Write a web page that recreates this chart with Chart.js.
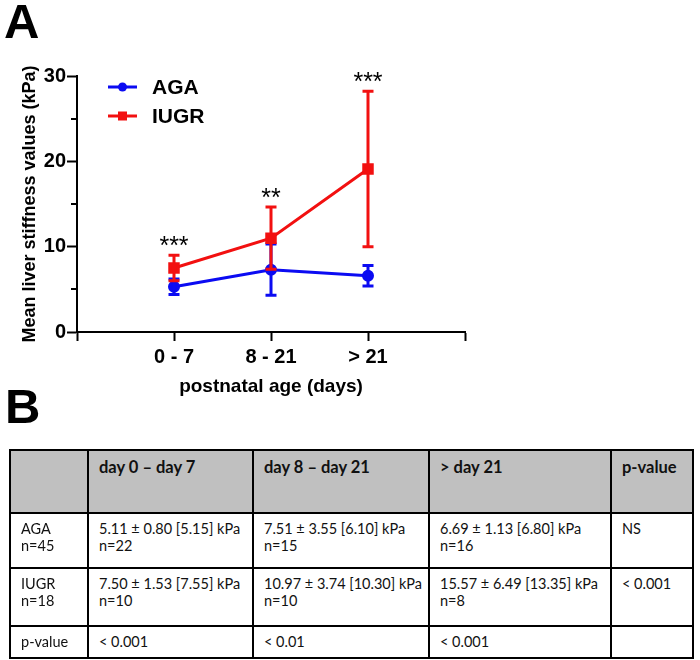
<!DOCTYPE html>
<html><head><meta charset="utf-8">
<script src="https://cdn.jsdelivr.net/npm/chart.js@4.4.1/dist/chart.umd.min.js"></script>
<style>
html,body{margin:0;padding:0;background:#fff;width:700px;height:660px;overflow:hidden;}
body{position:relative;font-family:'Liberation Sans',Arial,sans-serif;}
#cv{position:absolute;left:0;top:0;}
.panel{position:absolute;font-weight:bold;font-size:49px;line-height:1;color:#000;font-family:'Liberation Sans',Arial,sans-serif;}
#pa{left:4px;top:-3px;}
#pb{left:5px;top:382px;}
#tbl{position:absolute;left:9px;top:449px;width:683px;border-collapse:collapse;table-layout:fixed;font-family:Lato,'Open Sans',sans-serif;font-size:14.5px;color:#111;}
#tbl td{border:2px solid #000;text-align:left;vertical-align:top;padding:6px 0 0 10px;line-height:17px;white-space:pre;overflow:hidden;}
#tbl tr.hd td{background:#c0c0c0;font-weight:bold;font-size:16.5px;padding-top:8px;}
</style>
</head>
<body>
<canvas id="cv" width="700" height="420"></canvas>
<div class="panel" id="pa">A</div>
<div class="panel" id="pb">B</div>
<table id="tbl">
<colgroup><col style="width:78px"><col style="width:165px"><col style="width:176px"><col style="width:182px"><col style="width:82px"></colgroup>
<tbody id="tb"></tbody>
</table>
<script>
// ---- chart data ----
const xLabels = ['0 - 7', '8 - 21', '> 21'];
const xPositions = [1, 2, 3];
const agaMean = [5.3, 7.3, 6.6];
const agaSD = [0.9, 3.0, 1.2];
const iugrMean = [7.5, 11.0, 19.1];
const iugrSD = [1.5, 3.65, 9.1];
const significance = ['***', '**', '***'];
const yTickLabels = [0, 10, 20, 30];
const seriesNames = ['AGA', 'IUGR'];

// ---- table data ----
const tableHeader = ['', 'day 0 \u2013 day 7', 'day 8 \u2013 day 21', '> day 21', 'p-value'];
const tableAGA = ['AGA\nn=45', '5.11 \u00b1 0.80 [5.15] kPa\nn=22', '7.51 \u00b1 3.55 [6.10] kPa\nn=15', '6.69 \u00b1 1.13 [6.80] kPa\nn=16', 'NS'];
const tableIUGR = ['IUGR\nn=18', '7.50 \u00b1 1.53 [7.55] kPa\nn=10', '10.97 \u00b1 3.74 [10.30] kPa\nn=10', '15.57 \u00b1 6.49 [13.35] kPa\nn=8', '< 0.001'];
const tablePvalue = ['p-value', '< 0.001', '< 0.01', '< 0.001', ''];

const rowHeights = [63, 55, 58, 32];
const tb = document.getElementById('tb');
[tableHeader, tableAGA, tableIUGR, tablePvalue].forEach((row, r) => {
  const tr = document.createElement('tr');
  if (r === 0) tr.className = 'hd';
  tr.style.height = rowHeights[r] + 'px';
  row.forEach(txt => {
    const td = document.createElement('td');
    td.textContent = txt;
    tr.appendChild(td);
  });
  tb.appendChild(tr);
});

const BLUE = '#0b0bf2';
const RED = '#f21010';
const FONT = "'Liberation Sans', Arial, sans-serif";

const errorBars = {
  id: 'errorBars',
  afterDatasetDraw(chart, args) {
    const ds = chart.data.datasets[args.index];
    const ys = chart.scales.y;
    const c = chart.ctx;
    c.save();
    c.strokeStyle = ds.borderColor;
    c.lineWidth = 3;
    args.meta.data.forEach((pt, i) => {
      const v = ds.data[i].y, e = ds.errors[i];
      const top = ys.getPixelForValue(v + e), bot = ys.getPixelForValue(v - e);
      c.beginPath();
      c.moveTo(pt.x, top); c.lineTo(pt.x, bot);
      c.moveTo(pt.x - 5.5, top); c.lineTo(pt.x + 5.5, top);
      c.moveTo(pt.x - 5.5, bot); c.lineTo(pt.x + 5.5, bot);
      c.stroke();
    });
    c.restore();
  }
};

const extras = {
  id: 'extras',
  afterDraw(chart) {
    const c = chart.ctx, ys = chart.scales.y, xs = chart.scales.x, ca = chart.chartArea;
    c.save();
    // minor ticks
    c.strokeStyle = '#000'; c.lineWidth = 2;
    [5, 15, 25].forEach(v => {
      const y = Math.round(ys.getPixelForValue(v));
      c.beginPath(); c.moveTo(ca.left - 6, y); c.lineTo(ca.left, y); c.stroke();
    });
    // significance stars
    c.fillStyle = '#000';
    c.font = '25px ' + FONT;
    c.textAlign = 'center';
    c.textBaseline = 'alphabetic';
    significance.forEach((s, i) => {
      const topVal = Math.max(agaMean[i] + agaSD[i], iugrMean[i] + iugrSD[i]);
      c.fillText(s, xs.getPixelForValue(xPositions[i]), ys.getPixelForValue(topVal) - 1);
    });
    // legend
    chart.data.datasets.forEach((ds, i) => {
      const y = 87 + i * 29;
      c.strokeStyle = ds.borderColor; c.lineWidth = 3;
      c.beginPath(); c.moveTo(108, y); c.lineTo(137, y); c.stroke();
      c.fillStyle = ds.borderColor;
      if (ds.pointStyle === 'rect') { c.fillRect(118, y - 4.5, 9, 9); }
      else { c.beginPath(); c.arc(122.5, y, 4.5, 0, Math.PI * 2); c.fill(); }
      c.fillStyle = '#000';
      c.font = 'bold 21px ' + FONT;
      c.textAlign = 'left'; c.textBaseline = 'middle';
      c.fillText(ds.label, 152, y + 1);
    });
    c.restore();
  }
};

new Chart(document.getElementById('cv'), {
  type: 'line',
  data: {
    datasets: [
      { label: seriesNames[0], data: xPositions.map((x, i) => ({ x, y: agaMean[i] })), errors: agaSD,
        borderColor: BLUE, backgroundColor: BLUE, borderWidth: 3, pointStyle: 'circle', pointRadius: 4.5, pointHoverRadius: 4.5, order: 1 },
      { label: seriesNames[1], data: xPositions.map((x, i) => ({ x, y: iugrMean[i] })), errors: iugrSD,
        borderColor: RED, backgroundColor: RED, borderWidth: 3, pointStyle: 'rect', pointRadius: 6, pointHoverRadius: 6, order: 0 }
    ]
  },
  options: {
    responsive: false,
    animation: false,
    layout: { padding: { left: 0, top: 76, right: 235, bottom: 0 } },
    plugins: { legend: { display: false }, tooltip: { enabled: false } },
    scales: {
      x: {
        type: 'linear', min: 0, max: 4,
        afterFit: s => { s.height = 88; },
        border: { display: true, color: '#000', width: 2 },
        grid: { display: true, drawOnChartArea: false, drawTicks: true, tickLength: 9, tickWidth: 2, tickColor: '#000' },
        ticks: { stepSize: 1, autoSkip: false, maxRotation: 0, padding: 4, color: '#000',
          font: { family: FONT, size: 20, weight: 'bold' },
          callback: v => { const k = xPositions.indexOf(v); return k >= 0 ? xLabels[k] : ''; } },
        title: { display: true, text: 'postnatal age (days)', color: '#000',
          font: { family: FONT, size: 19, weight: 'bold' }, padding: { top: 0, bottom: 22 } }
      },
      y: {
        min: 0, max: 30,
        afterFit: s => { s.width = 77; },
        border: { display: true, color: '#000', width: 2 },
        grid: { display: true, drawOnChartArea: false, drawTicks: true, tickLength: 10, tickWidth: 2,
          tickColor: c => (yTickLabels.includes(c.tick.value) ? '#000' : 'rgba(0,0,0,0)') },
        ticks: { stepSize: 5, autoSkip: false, padding: 1, color: '#000',
          font: { family: FONT, size: 20, weight: 'bold' },
          callback: v => (yTickLabels.includes(v) ? String(v) : '') },
        title: { display: true, text: 'Mean liver stiffness values (kPa)', color: '#000',
          font: { family: FONT, size: 18, weight: 'bold' }, padding: { top: 19, bottom: 0 } }
      }
    }
  },
  plugins: [errorBars, extras]
});
</script>
</body></html>
